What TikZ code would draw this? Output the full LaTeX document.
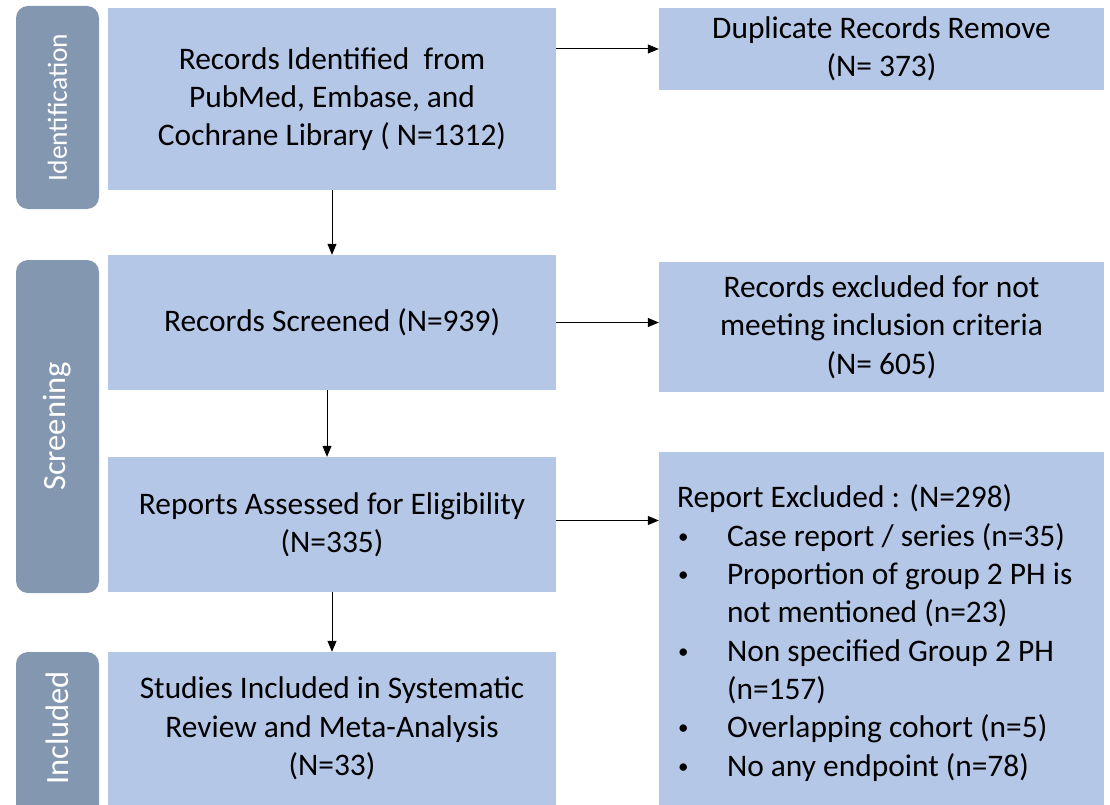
\documentclass[tikz,border=0pt]{standalone}
\usepackage{fontspec}
\setmainfont{Carlito}
\usetikzlibrary{arrows.meta}
\definecolor{boxblue}{HTML}{B4C7E7}
\definecolor{sidegray}{HTML}{8497B0}
\newcommand{\bul}{\makebox[50pt][l]{\hspace{1pt}\raisebox{3pt}{\fontsize{21}{21}\selectfont •}}}
\begin{document}
\begin{tikzpicture}[x=1pt,y=-1pt,
  box/.style={fill=boxblue, draw=none, inner sep=0pt, align=center,
    font=\fontsize{31.4}{38.3}\selectfont},
  side/.style={fill=sidegray, draw=none, rounded corners=12pt, inner sep=0pt, minimum width=83pt},
  sidelabel/.style={text=white, rotate=90, inner sep=0pt},
  arr/.style={-{Triangle[length=11pt,width=9pt]}, line width=1pt, draw=black}]
\useasboundingbox (0,0) rectangle (1110,805);
\begin{scope}
\clip (0,0) rectangle (1110,805);
% sidebars
\node[side, minimum height=203pt] (s1) at (57.5,107.5) {};
\node[side, minimum height=333pt] (s2) at (57.5,426.5) {};
\node[side, minimum height=178pt] (s3) at (57.5,741) {};
\node[sidelabel, font=\fontsize{27.5}{32}\selectfont] (l1) at (s1.center) {Identification};
\node[sidelabel, font=\fontsize{32.5}{36}\selectfont] (l2) at (s2.center) {Screening};
\node[sidelabel, font=\fontsize{32.5}{36}\selectfont] (l3) at (57.5,728) {Included};
% main boxes
\node[box, minimum width=448pt, minimum height=182pt] (b1) at (332,99)
  {Records Identified\ \ from\\PubMed, Embase, and\\Cochrane Library ( N=1312)};
\node[box, minimum width=448pt, minimum height=135pt] (b2) at (332,322.5)
  {Records Screened (N=939)};
\node[box, minimum width=448pt, minimum height=135pt] (b3) at (332,524.5)
  {Reports Assessed for Eligibility\\(N=335)};
\node[box, minimum width=448pt, minimum height=153pt] (b4) at (332,728.5)
  {Studies Included in Systematic\\Review and Meta-Analysis\\(N=33)};
% side boxes
\node[box, minimum width=445pt, minimum height=82pt] (d1) at (881.5,49)
  {Duplicate Records Remove\\(N= 373)};
\node[box, minimum width=445pt, minimum height=130pt] (d2) at (881.5,327)
  {Records excluded for not\\meeting inclusion criteria\\(N= 605)};
\node[box, minimum width=445pt, minimum height=353pt] (d3) at (881.5,628.5) {};
\node[anchor=north west, inner sep=0pt, align=left,
  font=\fontsize{31.4}{38.3}\selectfont] (rt) at ([xshift=18pt,yshift=-33pt]d3.north west)
  {Report Excluded : (N=298)\\
   \bul Case report / series (n=35)\\
   \bul Proportion of group 2 PH is\\
   \hspace*{50pt}not mentioned (n=23)\\
   \bul Non specified Group 2 PH\\
   \hspace*{50pt}(n=157)\\
   \bul Overlapping cohort (n=5)\\
   \bul No any endpoint (n=78)};
\end{scope}
% connectors
\draw[arr] (b1.north east |- d1.west) -- (d1.west);
\draw[arr] (b2.east) -- (b2.east -| d2.west);
\draw[arr] ([yshift=4pt]b3.east) -- ([yshift=4pt]b3.east -| d3.west);
\draw[arr] (b1.south) -- (b2.north);
\draw[arr] ([xshift=-5pt]b2.south) -- ([xshift=-5pt]b2.south |- b3.north);
\draw[arr] (b3.south) -- (b4.north);
\end{tikzpicture}
\end{document}
